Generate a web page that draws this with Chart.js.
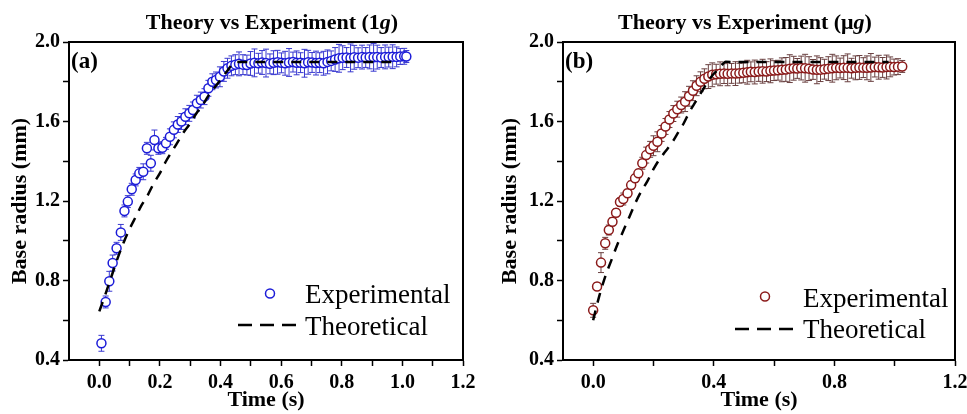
<!DOCTYPE html>
<html><head><meta charset="utf-8">
<script src="https://cdn.jsdelivr.net/npm/chart.js@4.4.1/dist/chart.umd.min.js"></script>
<style>
html,body{margin:0;padding:0;background:#fff;overflow:hidden;width:967px;height:414px;}
.wrap{position:absolute;top:0;height:414px;width:490px;}
#w1{left:0}#w2{left:490px}
</style></head><body>
<div class="wrap" id="w1"><canvas id="c1" width="490" height="414"></canvas></div>
<div class="wrap" id="w2"><canvas id="c2" width="490" height="414"></canvas></div>
<script>
// ---------- Panel (a): 1g ----------
const expTimeA = [0.007,0.021,0.033,0.044,0.057,0.071,0.083,0.094,0.107,0.120,0.132,0.145,0.157,0.170,0.182,0.195,0.208,0.220,0.233,0.246,0.259,0.271,0.284,0.297,0.309,0.322,0.335,0.347,0.360,0.373,0.385,0.398,0.411,0.423,0.436,0.449,0.461,0.474,0.487,0.499,0.512,0.525,0.537,0.550,0.563,0.575,0.588,0.601,0.613,0.626,0.639,0.651,0.664,0.677,0.689,0.702,0.715,0.727,0.740,0.753,0.765,0.778,0.791,0.803,0.816,0.829,0.841,0.854,0.867,0.879,0.892,0.905,0.917,0.930,0.943,0.955,0.968,0.981,0.993,1.006,1.013];
const expRadiusA = [0.484,0.692,0.796,0.888,0.962,1.042,1.150,1.197,1.259,1.306,1.339,1.347,1.465,1.390,1.507,1.465,1.468,1.490,1.523,1.558,1.585,1.600,1.624,1.641,1.658,1.692,1.708,1.725,1.767,1.800,1.809,1.825,1.852,1.868,1.880,1.886,1.890,1.886,1.884,1.892,1.895,1.893,1.897,1.894,1.890,1.896,1.898,1.895,1.893,1.897,1.899,1.895,1.896,1.893,1.898,1.897,1.894,1.896,1.893,1.900,1.905,1.912,1.918,1.921,1.922,1.920,1.923,1.921,1.924,1.922,1.925,1.923,1.924,1.922,1.925,1.924,1.926,1.925,1.927,1.928,1.927];
const expErrA = [0.04,0.03,0.05,0.04,0.03,0.04,0.03,0.03,0.03,0.03,0.03,0.04,0.03,0.04,0.05,0.03,0.03,0.03,0.04,0.04,0.04,0.04,0.04,0.04,0.04,0.04,0.04,0.04,0.04,0.04,0.04,0.05,0.05,0.05,0.05,0.05,0.06,0.05,0.05,0.06,0.07,0.05,0.06,0.07,0.05,0.06,0.06,0.05,0.06,0.07,0.05,0.06,0.05,0.07,0.06,0.05,0.06,0.05,0.06,0.06,0.05,0.06,0.07,0.06,0.05,0.07,0.06,0.05,0.06,0.05,0.06,0.07,0.06,0.05,0.06,0.05,0.06,0.05,0.04,0.04,0.03];
const theoTimeA = [0,0.02,0.04,0.06,0.08,0.10,0.12,0.14,0.16,0.18,0.20,0.22,0.24,0.26,0.28,0.30,0.32,0.34,0.36,0.38,0.40,0.42,0.44,0.455,0.97];
const theoRadiusA = [0.645,0.73,0.82,0.91,0.99,1.06,1.12,1.18,1.23,1.29,1.34,1.40,1.45,1.50,1.55,1.59,1.64,1.68,1.73,1.77,1.81,1.85,1.89,1.90,1.90];
const xTicksA = [0,0.1,0.2,0.3,0.4,0.5,0.6,0.7,0.8,0.9,1.0,1.1,1.2];
const xLabelsA = ['0.0','0.2','0.4','0.6','0.8','1.0','1.2'];

// ---------- Panel (b): micro-g ----------
const expTimeB = [0.000,0.013,0.026,0.040,0.052,0.064,0.076,0.089,0.100,0.114,0.126,0.139,0.150,0.163,0.176,0.189,0.200,0.213,0.227,0.240,0.253,0.266,0.279,0.292,0.305,0.318,0.331,0.343,0.356,0.369,0.382,0.395,0.408,0.421,0.434,0.446,0.459,0.472,0.485,0.498,0.511,0.523,0.536,0.549,0.562,0.575,0.588,0.600,0.613,0.626,0.639,0.652,0.665,0.677,0.690,0.703,0.716,0.729,0.742,0.754,0.767,0.780,0.793,0.806,0.819,0.831,0.844,0.857,0.870,0.883,0.896,0.908,0.921,0.934,0.947,0.960,0.973,0.985,0.998,1.011,1.025];
const expRadiusB = [0.650,0.770,0.890,0.987,1.054,1.096,1.141,1.195,1.210,1.239,1.280,1.314,1.339,1.390,1.431,1.460,1.478,1.498,1.540,1.575,1.610,1.640,1.662,1.683,1.700,1.727,1.755,1.780,1.800,1.815,1.826,1.835,1.838,1.840,1.841,1.840,1.842,1.841,1.843,1.845,1.848,1.850,1.849,1.852,1.853,1.851,1.855,1.856,1.858,1.860,1.862,1.866,1.868,1.867,1.869,1.868,1.866,1.862,1.860,1.861,1.863,1.866,1.868,1.870,1.869,1.871,1.870,1.868,1.870,1.872,1.871,1.870,1.872,1.874,1.873,1.872,1.874,1.875,1.874,1.876,1.877];
const expErrB = [0.035,0.02,0.05,0.03,0.025,0.02,0.02,0.02,0.03,0.02,0.02,0.02,0.02,0.03,0.04,0.04,0.05,0.05,0.04,0.04,0.04,0.04,0.04,0.04,0.05,0.05,0.05,0.05,0.05,0.05,0.06,0.06,0.05,0.06,0.05,0.06,0.05,0.06,0.05,0.05,0.06,0.05,0.06,0.05,0.06,0.05,0.06,0.05,0.05,0.06,0.06,0.07,0.06,0.05,0.06,0.07,0.06,0.05,0.07,0.06,0.05,0.06,0.07,0.06,0.05,0.06,0.07,0.05,0.06,0.06,0.05,0.06,0.07,0.05,0.06,0.05,0.06,0.05,0.04,0.04,0.03];
const theoTimeB = [0,0.02,0.04,0.06,0.08,0.10,0.12,0.14,0.16,0.18,0.20,0.22,0.24,0.26,0.28,0.30,0.32,0.34,0.36,0.38,0.40,0.42,0.44,0.98];
const theoRadiusB = [0.60,0.72,0.82,0.90,0.98,1.05,1.12,1.19,1.25,1.30,1.36,1.41,1.45,1.49,1.54,1.59,1.65,1.70,1.75,1.80,1.84,1.87,1.90,1.90];
const xTicksB = [0,0.2,0.4,0.6,0.8,1.0,1.2];
const xLabelsB = ['0.0','0.4','0.8','1.2'];

const yTicks = [0.4,0.6,0.8,1.0,1.2,1.4,1.6,1.8,2.0];
const yLabels = ['0.4','0.8','1.2','1.6','2.0'];

const SERIF = '"Liberation Serif", "Times New Roman", serif';

function makeChart(canvasId, cfg) {
  const errPlugin = {
    id: 'errbars',
    beforeDatasetsDraw(chart) {
      const ctx = chart.ctx, xs = chart.scales.x, ys = chart.scales.y;
      ctx.save();
      ctx.strokeStyle = cfg.errColor; ctx.lineWidth = 1;
      cfg.expTime.forEach((t, i) => {
        const px = xs.getPixelForValue(t);
        const y1 = ys.getPixelForValue(cfg.expRadius[i] + cfg.expErr[i]);
        const y2 = ys.getPixelForValue(cfg.expRadius[i] - cfg.expErr[i]);
        ctx.beginPath();
        ctx.moveTo(px, y1); ctx.lineTo(px, y2);
        ctx.moveTo(px - 3, y1); ctx.lineTo(px + 3, y1);
        ctx.moveTo(px - 3, y2); ctx.lineTo(px + 3, y2);
        ctx.stroke();
      });
      ctx.restore();
    }
  };
  const decoPlugin = {
    id: 'deco',
    afterDraw(chart) {
      const ctx = chart.ctx, a = chart.chartArea;
      ctx.save();
      ctx.strokeStyle = '#000'; ctx.lineWidth = 2;
      ctx.strokeRect(a.left, a.top, a.right - a.left, a.bottom - a.top);
      ctx.fillStyle = '#000'; ctx.textBaseline = 'alphabetic';
      const parts = [[cfg.titleMain, 'bold 22px ' + SERIF], ['g', 'italic bold 22px ' + SERIF], [')', 'bold 22px ' + SERIF]];
      let total = 0;
      parts.forEach(p => { ctx.font = p[1]; total += ctx.measureText(p[0]).width; });
      let x = cfg.titleCx - total / 2;
      parts.forEach(p => { ctx.font = p[1]; ctx.fillText(p[0], x, 29); x += ctx.measureText(p[0]).width; });
      ctx.font = 'bold 23px ' + SERIF;
      ctx.fillText(cfg.panel, a.left + 2, 67.5);
      const L = cfg.legend;
      ctx.beginPath();
      ctx.arc(L.mx, L.my, 4.5, 0, Math.PI * 2);
      ctx.fillStyle = '#fff'; ctx.fill();
      ctx.strokeStyle = cfg.color; ctx.lineWidth = 1.5; ctx.stroke();
      ctx.fillStyle = '#000';
      ctx.font = '27px ' + SERIF;
      ctx.fillText('Experimental', L.tx, L.ty1);
      ctx.fillText('Theoretical', L.tx, L.ty2);
      ctx.beginPath();
      ctx.setLineDash([14, 8]);
      ctx.strokeStyle = '#000'; ctx.lineWidth = 2.5;
      ctx.moveTo(L.dx1, L.dy); ctx.lineTo(L.dx2, L.dy);
      ctx.stroke();
      ctx.restore();
    }
  };
  return new Chart(document.getElementById(canvasId), {
    type: 'scatter',
    data: {
      datasets: [
        {
          label: 'Theoretical',
          data: cfg.theoTime.map((t, i) => ({x: t, y: cfg.theoRadius[i]})),
          showLine: true, borderColor: '#000', borderWidth: 2.5, borderDash: [10, 8],
          pointRadius: 0, cubicInterpolationMode: 'monotone', fill: false, order: 0
        },
        {
          label: 'Experimental',
          data: cfg.expTime.map((t, i) => ({x: t, y: cfg.expRadius[i]})),
          showLine: false, pointRadius: 4.5, pointBorderWidth: 1.5,
          pointBorderColor: cfg.color, pointBackgroundColor: '#fff', order: 1
        }
      ]
    },
    options: {
      responsive: false, animation: false, devicePixelRatio: 1,
      layout: {padding: {left: 0, right: cfg.padRight, top: 42, bottom: 0}},
      plugins: {legend: {display: false}, tooltip: {enabled: false}, title: {display: false}},
      scales: {
        x: {
          type: 'linear', min: -0.1, max: 1.2,
          afterBuildTicks: s => { s.ticks = cfg.xTicks.map(v => ({value: v})); },
          afterFit: s => { s.height = 54; },
          ticks: {
            autoSkip: false, maxRotation: 0, color: '#000', padding: 5,
            font: {family: SERIF, size: 20, weight: 'bold'},
            callback: v => { const s = Number(v).toFixed(1); return cfg.xLabels.includes(s) ? s : ''; }
          },
          grid: {drawOnChartArea: false, drawTicks: true, tickLength: 6, tickColor: '#000', tickWidth: 1.5},
          border: {color: '#000', width: 2},
          title: {display: true, text: 'Time (s)', color: '#000', font: {family: SERIF, size: 22, weight: 'bold'}, padding: {top: 0, bottom: 0}}
        },
        y: {
          type: 'linear', min: 0.4, max: 2.0,
          afterBuildTicks: s => { s.ticks = yTicks.map(v => ({value: v})); },
          afterFit: s => { s.width = cfg.yWidth; },
          ticks: {
            autoSkip: false, color: '#000', padding: 3,
            font: {family: SERIF, size: 20, weight: 'bold'},
            callback: v => { const s = Number(v).toFixed(1); return yLabels.includes(s) ? s : ''; }
          },
          grid: {drawOnChartArea: false, drawTicks: true, tickLength: 6, tickColor: '#000', tickWidth: 1.5},
          border: {color: '#000', width: 2},
          title: {display: true, text: 'Base radius (mm)', color: '#000', font: {family: SERIF, size: 22, weight: 'bold'}, padding: {top: 7, bottom: 0}}
        }
      }
    },
    plugins: [errPlugin, decoPlugin]
  });
}

makeChart('c1', {
  expTime: expTimeA, expRadius: expRadiusA, expErr: expErrA,
  theoTime: theoTimeA, theoRadius: theoRadiusA,
  xTicks: xTicksA, xLabels: xLabelsA,
  color: '#1c1cd8', errColor: '#3a3ad0',
  padRight: 27, yWidth: 69,
  titleMain: 'Theory vs Experiment (1', titleCx: 272, panel: '(a)',
  legend: {mx: 270, my: 293.5, tx: 305, ty1: 303, ty2: 335, dx1: 238, dx2: 297, dy: 325}
});
makeChart('c2', {
  expTime: expTimeB, expRadius: expRadiusB, expErr: expErrB,
  theoTime: theoTimeB, theoRadius: theoRadiusB,
  xTicks: xTicksB, xLabels: xLabelsB,
  color: '#8b1a1a', errColor: '#6a4040',
  padRight: 25, yWidth: 73,
  titleMain: 'Theory vs Experiment (\u03bc', titleCx: 255, panel: '(b)',
  legend: {mx: 275, my: 296.5, tx: 313, ty1: 307, ty2: 338, dx1: 245, dx2: 303, dy: 329}
});
</script>
</body></html>
